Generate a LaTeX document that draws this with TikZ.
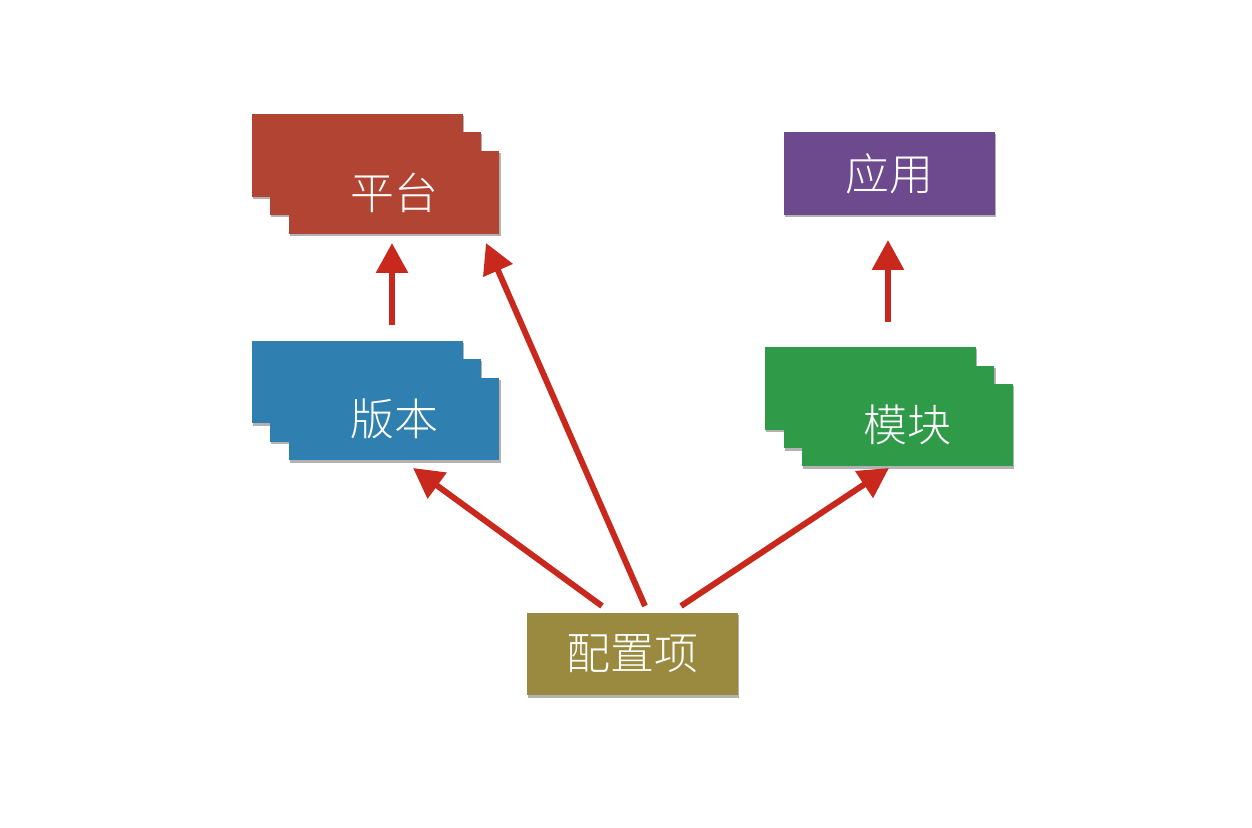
\documentclass[tikz,border=0pt]{standalone}
\usepackage{fontspec}
\newfontfamily\cjk{Noto Sans CJK SC Light}
\usetikzlibrary{arrows.meta,shadows}
\definecolor{platred}{HTML}{B24434}
\definecolor{verblue}{HTML}{2F80B1}
\definecolor{apppurple}{HTML}{6D4A8D}
\definecolor{modgreen}{HTML}{2F9A48}
\definecolor{cfgolive}{HTML}{9A8A3F}
\definecolor{arrred}{HTML}{C8291C}
\tikzset{
  card/.style={rectangle, minimum width=4.22cm, minimum height=1.66cm, inner sep=0pt,
    draw=none, text=white, font=\cjk\fontsize{25}{30}\selectfont,
    drop shadow={shadow xshift=0.8pt, shadow yshift=-1.3pt, opacity=0.3, fill=black}},
  link/.style={draw=arrred, line width=3.4pt, -{Triangle[length=0.6cm,width=0.62cm]}}
}
\begin{document}
\begin{tikzpicture}[x=0.02cm,y=-0.02cm]
\fill[white] (0,0) rectangle (1252,828);
\useasboundingbox (0,0) rectangle (1252,828);
% platform stack
\node[card, fill=platred] (plat3) at (357.5,155.5) {};
\node[card, fill=platred] (plat2) at (375.5,173.5) {};
\node[card, fill=platred] (plat) at (394,192.5) {平台};
% app
\node[card, fill=apppurple] (app) at (889.5,173.5) {应用};
% version stack
\node[card, fill=verblue] (ver3) at (357.5,382) {};
\node[card, fill=verblue] (ver2) at (375.5,400.5) {};
\node[card, fill=verblue] (ver) at (394,419) {版本};
% module stack
\node[card, fill=modgreen] (mod3) at (870.5,388.5) {};
\node[card, fill=modgreen] (mod2) at (889,407) {};
\node[card, fill=modgreen] (mod) at (907.5,425) {模块};
% config
\node[card, fill=cfgolive] (cfg) at (632.5,654) {配置项};
% arrow end points
\coordinate (verTop) at (392,325);
\coordinate (platBot) at (392,243);
\coordinate (modTop) at (888,322);
\coordinate (appBot) at (888,240);
\coordinate (cfgA) at (602,606);
\coordinate (verBot) at (413,468);
\coordinate (cfgB) at (645,606);
\coordinate (platBotR) at (486,243);
\coordinate (cfgC) at (681,606);
\coordinate (modBot) at (889,468);
\draw[link] (verTop) -- (platBot);
\draw[link] (modTop) -- (appBot);
\draw[link] (cfgA) -- (verBot);
\draw[link] (cfgB) -- (platBotR);
\draw[link] (cfgC) -- (modBot);
\end{tikzpicture}
\end{document}
